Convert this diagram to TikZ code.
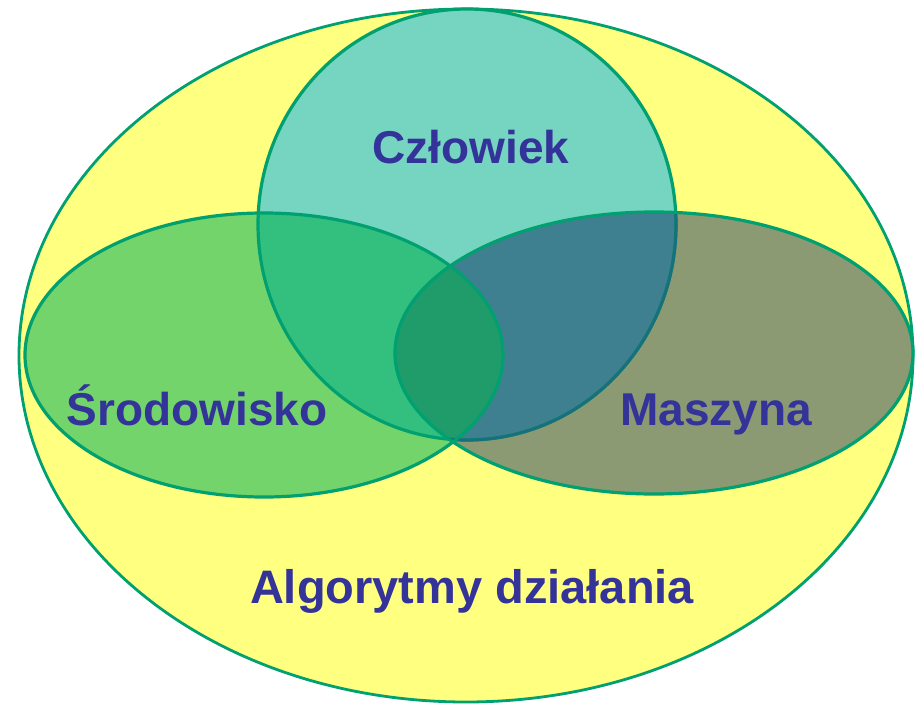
\documentclass[tikz,border=0pt]{standalone}
\usepackage{fontspec}
\setmainfont{Liberation Sans}
\definecolor{outery}{HTML}{FFFF80}
\definecolor{ctteal}{HTML}{75D5C1}
\definecolor{ltgreen}{HTML}{73D46C}
\definecolor{rtolive}{HTML}{8C9A74}
\definecolor{cl}{HTML}{33C07F}
\definecolor{cr}{HTML}{3F8090}
\definecolor{lr}{HTML}{1F9C6A}
\definecolor{edge}{HTML}{00A070}
\definecolor{edgedark}{HTML}{17707A}
\definecolor{txt}{HTML}{333399}
\tikzset{
  rim/.style={draw=edge, line width=3.2pt},
  lbl/.style={anchor=base, text=txt, font=\fontsize{46}{52}\selectfont\bfseries, inner sep=0pt}
}
\begin{document}
\begin{tikzpicture}[x=1pt,y=-1pt]
\useasboundingbox (0,0) rectangle (919,704);
% outer
\fill[outery] (466,355.5) ellipse [x radius=447, y radius=346.5];
\draw[rim, line width=2.8pt] (466,355.5) ellipse [x radius=447, y radius=346.5];
% base fills
\fill[ctteal] (467,224.5) ellipse [x radius=209, y radius=215.5];
\fill[ltgreen] (264,355) ellipse [x radius=239, y radius=142];
\fill[rtolive] (654,353) ellipse [x radius=259, y radius=141];
% overlaps with circle
\begin{scope}
  \clip (467,224.5) ellipse [x radius=209, y radius=215.5];
  \fill[cl] (264,355) ellipse [x radius=239, y radius=142];
  \fill[cr] (654,353) ellipse [x radius=259, y radius=141];
\end{scope}
% lens
\begin{scope}
  \clip (264,355) ellipse [x radius=239, y radius=142];
  \fill[lr] (654,353) ellipse [x radius=259, y radius=141];
\end{scope}
% outlines
\draw[rim] (467,224.5) ellipse [x radius=209, y radius=215.5];
\begin{scope}
  \clip (654,353) ellipse [x radius=259, y radius=141];
  \draw[draw=edgedark, line width=3.2pt] (467,224.5) ellipse [x radius=209, y radius=215.5];
\end{scope}
\draw[rim] (264,355) ellipse [x radius=239, y radius=142];
\draw[rim] (654,353) ellipse [x radius=259, y radius=141];
% labels
\node[lbl] (czl) at (471,163) {Człowiek};
\node[lbl] (sro) at (197,425) {Środowisko};
\node[lbl] (mas) at (716,425) {Maszyna};
\node[lbl, font=\fontsize{47}{52}\selectfont\bfseries] (alg) at (472,603) {Algorytmy działania};
\end{tikzpicture}
\end{document}
